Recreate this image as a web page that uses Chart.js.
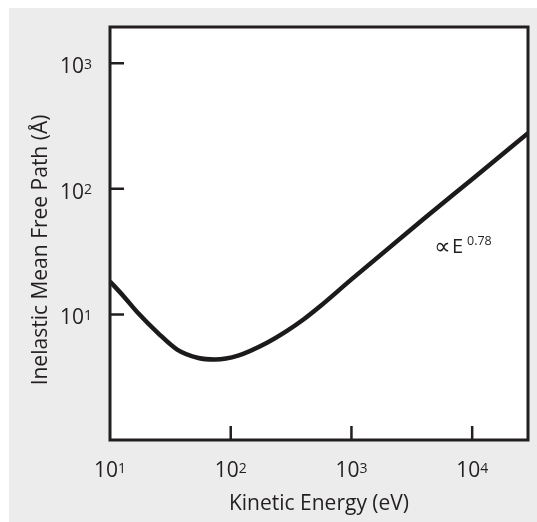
<!DOCTYPE html>
<html lang="en">
<head>
    <meta charset="UTF-8">
    <title>Inelastic Mean Free Path</title>
    <script src="https://cdn.jsdelivr.net/npm/chart.js"></script>
    <style>
        html, body {
            margin: 0;
            padding: 0;
            background: #FFFFFF;
        }
        .chart-wrapper {
            position: relative;
            width: 537px;
            height: 522px;
        }
    </style>
</head>
<body>
    <div class="chart-wrapper">
        <canvas id="imfpCanvas"></canvas>
    </div>

    <script>
        // Curve (kinetic energy in eV, IMFP in Å)
        const energy = [10, 13, 17, 25, 36, 54, 74, 115, 200, 290, 400, 550, 1000, 4000, 10000, 29000];
        const imfp   = [18.3, 13.9, 10.3, 7.1, 5.25, 4.5, 4.38, 4.7, 5.95, 7.35, 9.1, 11.6, 19, 58, 119, 277];

        // Axis ticks (decades)
        const xTicks = [10, 100, 1000, 10000];
        const yTicks = [10, 100, 1000];

        const xTitle = 'Kinetic Energy (eV)';
        const yTitle = 'Inelastic Mean Free Path (Å)';
        const fitLabel = ['∝', 'E', '0.78'];

        const INK = '#231f20';
        const FONT = "'Open Sans', 'Noto Sans', sans-serif";

        // draws "10" with a small exponent, anchored at x ('center' or 'right')
        function drawPower(ctx, value, x, y, anchor) {
            const exp = String(Math.round(Math.log10(value)));
            ctx.font = '21px ' + FONT;
            const wBase = ctx.measureText('10').width;
            ctx.font = '14px ' + FONT;
            const wExp = ctx.measureText(exp).width;
            const total = wBase + wExp;
            let left = anchor === 'right' ? x - total : x - total / 2;
            ctx.textAlign = 'left';
            ctx.textBaseline = 'alphabetic';
            ctx.font = '21px ' + FONT;
            ctx.fillText('10', left, y);
            ctx.font = '14px ' + FONT;
            ctx.fillText(exp, left + wBase, y - 4.5);
        }

        const framePlugin = {
            id: 'frame',
            beforeDraw(chart) {
                const ctx = chart.ctx;
                const a = chart.chartArea;
                ctx.save();
                ctx.fillStyle = '#FFFFFF';
                ctx.fillRect(0, 0, chart.width, chart.height);
                ctx.fillStyle = '#EBECEB';
                ctx.fillRect(9, 8, chart.width - 9, chart.height - 8);
                ctx.fillStyle = '#FFFFFF';
                ctx.fillRect(a.left, a.top, a.right - a.left, a.bottom - a.top);
                ctx.restore();
            },
            afterDraw(chart) {
                const ctx = chart.ctx;
                const a = chart.chartArea;
                const xs = chart.scales.x;
                const ys = chart.scales.y;
                ctx.save();
                ctx.strokeStyle = INK;
                ctx.fillStyle = INK;
                ctx.lineWidth = 3;
                ctx.strokeRect(a.left, a.top, a.right - a.left, a.bottom - a.top);

                // inward tick marks
                ctx.lineWidth = 2.5;
                ctx.beginPath();
                xTicks.forEach(v => {
                    const px = xs.getPixelForValue(v);
                    if (px > a.left + 2) {
                        ctx.moveTo(px, a.bottom);
                        ctx.lineTo(px, a.bottom - 14);
                    }
                });
                yTicks.forEach(v => {
                    const py = ys.getPixelForValue(v);
                    ctx.moveTo(a.left, py);
                    ctx.lineTo(a.left + 14, py);
                });
                ctx.stroke();

                // tick labels
                xTicks.forEach(v => drawPower(ctx, v, xs.getPixelForValue(v), a.bottom + 37, 'center'));
                yTicks.forEach(v => drawPower(ctx, v, a.left - 18, ys.getPixelForValue(v) + 10, 'right'));

                // axis titles
                ctx.font = '21px ' + FONT;
                ctx.textAlign = 'center';
                ctx.textBaseline = 'alphabetic';
                ctx.fillText(xTitle, (a.left + a.right) / 2, 510);
                ctx.save();
                ctx.translate(47, 250);
                ctx.rotate(-Math.PI / 2);
                ctx.fillText(yTitle, 0, 0);
                ctx.restore();

                // power-law annotation
                ctx.textAlign = 'left';
                ctx.font = "23px 'DejaVu Sans', sans-serif";
                ctx.fillText(fitLabel[0], 434, 254);
                ctx.font = '20px ' + FONT;
                ctx.fillText(fitLabel[1], 452, 253);
                ctx.font = '12.5px ' + FONT;
                ctx.fillText(fitLabel[2], 467, 245);
                ctx.restore();
            }
        };

        document.addEventListener('DOMContentLoaded', function() {
            const ctx = document.getElementById('imfpCanvas').getContext('2d');
            new Chart(ctx, {
                type: 'scatter',
                data: {
                    datasets: [{
                        data: energy.map((e, i) => ({ x: e, y: imfp[i] })),
                        showLine: true,
                        borderColor: '#1c1a1b',
                        borderWidth: 4.5,
                        pointRadius: 0,
                        cubicInterpolationMode: 'monotone',
                        fill: false
                    }]
                },
                options: {
                    responsive: true,
                    maintainAspectRatio: false,
                    animation: false,
                    layout: {
                        padding: { left: 110, top: 27, right: 9, bottom: 82 }
                    },
                    scales: {
                        x: {
                            type: 'logarithmic',
                            min: 10,
                            max: 29000,
                            display: false
                        },
                        y: {
                            type: 'logarithmic',
                            min: 1,
                            max: 1940,
                            display: false
                        }
                    },
                    plugins: {
                        legend: { display: false },
                        tooltip: { enabled: false }
                    }
                },
                plugins: [framePlugin]
            });
        });
    </script>
</body>
</html>
